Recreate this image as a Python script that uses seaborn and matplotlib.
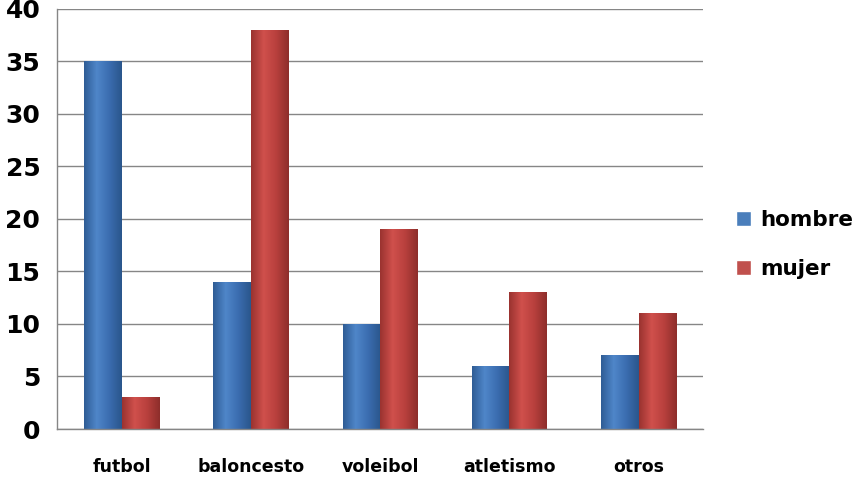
import numpy as np
import pandas as pd
import matplotlib
matplotlib.use("Agg")
import matplotlib.pyplot as plt
import seaborn as sns
from matplotlib.colors import LinearSegmentedColormap

deportes = ["futbol", "baloncesto", "voleibol", "atletismo", "otros"]
hombre = [35, 14, 10, 6, 7]
mujer = [3, 38, 19, 13, 11]
series = ["hombre", "mujer"]
colores = {"hombre": "#4a7ebb", "mujer": "#c0504d"}

df = pd.DataFrame({
    "deporte": deportes * 2,
    "valor": hombre + mujer,
    "sexo": ["hombre"] * len(deportes) + ["mujer"] * len(deportes),
})

sns.set_style("white")
plt.rcParams["font.family"] = ["DejaVu Sans"]
plt.rcParams["text.color"] = "black"
plt.rcParams["xtick.color"] = "black"
plt.rcParams["ytick.color"] = "black"

fig = plt.figure(figsize=(8.56, 4.78), dpi=100)
ax = fig.add_axes([0.0666, 0.1025, 0.755, 0.879])

sns.barplot(data=df, x="deporte", y="valor", hue="sexo", palette=colores,
            width=0.58, ax=ax, saturation=1, legend=True)

# gradient fill to imitate the bevelled Excel bars
grad = {
    "hombre": LinearSegmentedColormap.from_list("h", ["#2f5d96", "#4f86c9", "#3b6db0", "#2a568c"]),
    "mujer": LinearSegmentedColormap.from_list("m", ["#9a3330", "#d0504c", "#b8403d", "#8e2e2b"]),
}
g = np.linspace(0, 1, 64).reshape(1, -1)
for cont, s in zip(ax.containers, series):
    for p in cont.patches:
        x0, y0 = p.get_x(), p.get_y()
        w, h = p.get_width(), p.get_height()
        p.set_edgecolor("none")
        im = ax.imshow(g, cmap=grad[s], aspect="auto", extent=[x0, x0 + w, y0, y0 + h],
                       zorder=p.get_zorder() + 0.1)
        im.set_clip_path(p)

ax.set_xlim(-0.5, 4.5)
ax.set_ylim(0, 40)
ax.set_yticks(range(0, 41, 5))
ax.set_xlabel("")
ax.set_ylabel("")
ax.yaxis.grid(True, color="#868686", linewidth=1)
ax.set_axisbelow(True)
for side in ["top", "right"]:
    ax.spines[side].set_visible(False)
for side in ["left", "bottom"]:
    ax.spines[side].set_color("#868686")
    ax.spines[side].set_linewidth(1)

ax.set_xticks(np.arange(-0.5, 5, 1), minor=False)
ax.set_xticklabels([])
ax.set_xticks(range(5), minor=True)
ax.set_xticklabels(deportes, minor=True, fontsize=12.5, fontweight="bold")
ax.tick_params(axis="x", which="major", length=9, color="#868686", direction="out")
ax.tick_params(axis="x", which="minor", length=0, pad=21)
ax.tick_params(axis="y", length=9, color="#868686", labelsize=18, pad=3)
for t in ax.get_yticklabels():
    t.set_fontweight("bold")

handles, labels = ax.get_legend_handles_labels()
leg = ax.legend(handles, labels, loc="center left", bbox_to_anchor=(1.02, 0.44),
                frameon=False, prop={"size": 15.5, "weight": "bold"},
                handlelength=0.7, handleheight=0.7, labelspacing=1.35, handletextpad=0.45)

fig.savefig("out.png", dpi=100)
